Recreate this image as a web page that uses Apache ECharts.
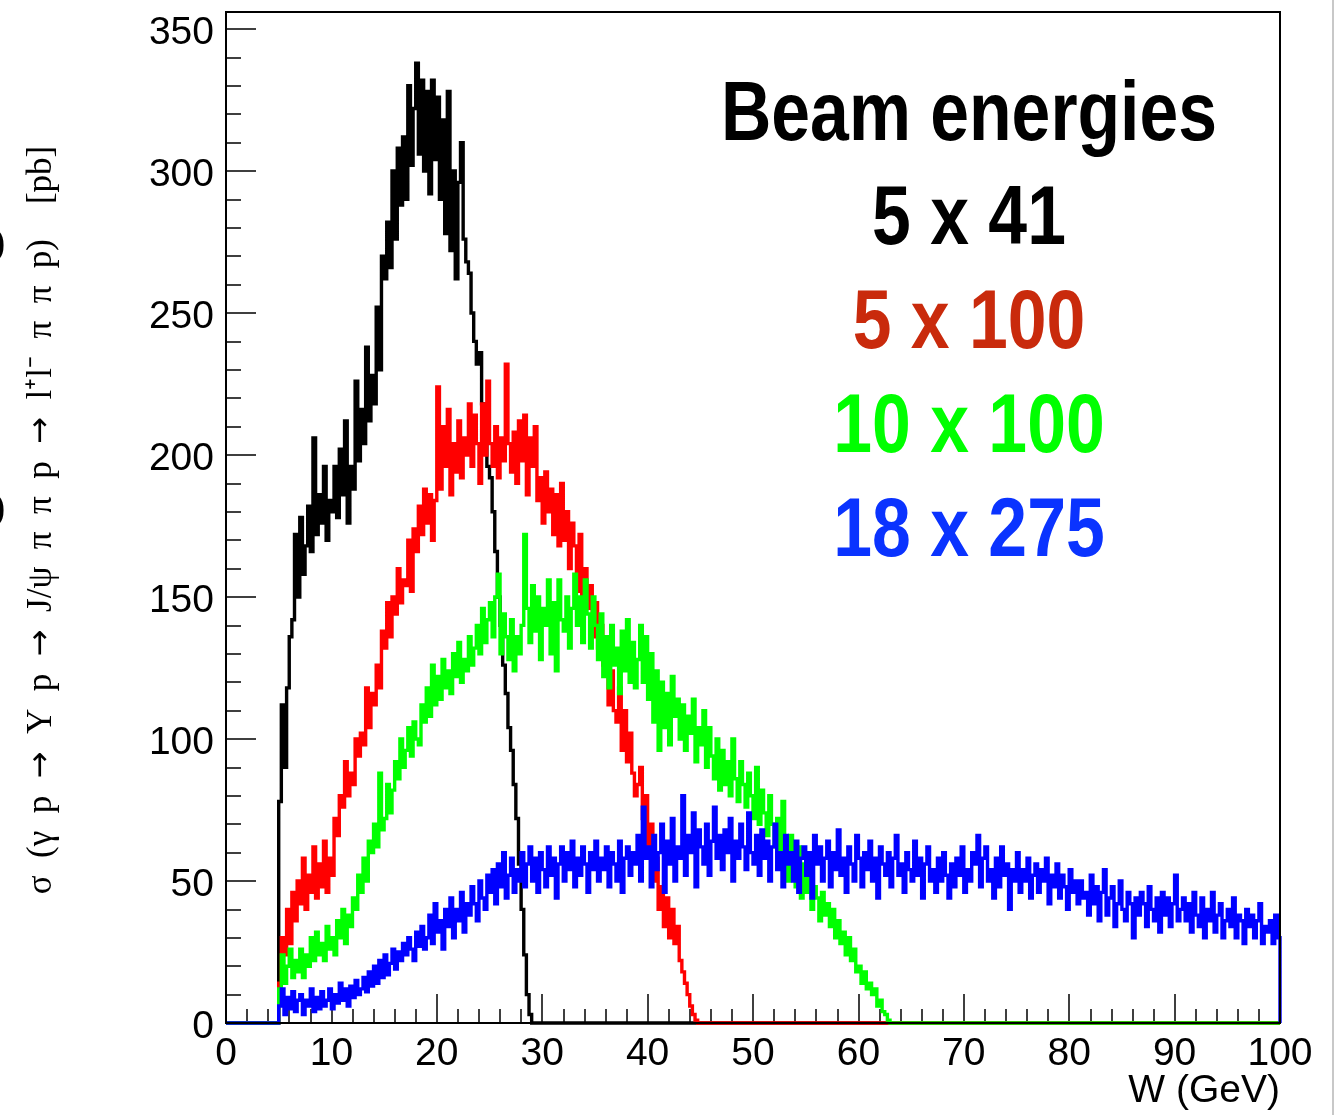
<!DOCTYPE html>
<html>
<head>
<meta charset="utf-8">
<script src="https://cdn.jsdelivr.net/npm/echarts@6/dist/echarts.min.js"></script>
<style>
html,body{margin:0;padding:0;background:#fff;}
#chart{width:1342px;height:1115px;}
</style>
</head>
<body>
<div id="chart"></div>
<script>
// Histogram bin layout (GeV): first filled bin edge and bin width
const BIN_START = 5;
const BIN_WIDTH = 0.25;

// Series names / legend labels
const legendTitle = 'Beam energies';
const seriesNames = ['5 x 41', '5 x 100', '10 x 100', '18 x 275'];

// Cross-section per bin [pb]; bins start at W = 5 GeV, width 0.25 GeV (8 bins = 2 GeV per row)
const beam5x41 = [
  78,112,90,118,136,142,172,150,
  178,158,168,182,166,206,172,186,
  176,196,170,184,180,196,178,202,
  186,212,176,196,188,226,198,216,
  204,238,212,228,218,252,230,270,
  262,282,266,300,276,308,288,312,
  290,330,302,322,338,306,332,300,
  328,292,332,304,326,290,318,278,
  328,272,300,262,296,310,276,268,
  264,250,240,232,236,218,212,196,
  192,180,166,150,140,126,116,104,
  96,84,72,56,40,24,10,3,
  0
];
const beam5x100 = [
  14,30,24,40,28,46,36,50,
  42,58,40,52,46,62,44,56,
  48,64,46,58,52,72,66,80,
  76,92,80,88,84,100,94,102,
  98,118,104,116,112,126,118,138,
  132,148,136,150,144,160,148,156,
  154,170,152,174,166,182,172,188,
  176,186,170,184,224,188,210,196,
  216,186,204,194,212,192,206,200,
  218,196,214,204,190,218,200,226,
  204,196,210,192,206,198,232,204,
  194,208,190,212,198,214,186,206,
  196,210,184,192,176,194,180,188,
  172,186,168,190,170,180,160,176,
  168,152,172,150,160,146,154,136,
  148,132,140,126,130,112,124,110,
  106,118,96,110,92,102,88,80,
  84,90,72,80,62,70,50,58,
  40,48,34,44,30,40,28,34,
  22,18,14,10,6,3,1,0
];
const beam10x100 = [
  12,24,14,20,26,16,22,18,
  26,16,24,20,30,22,32,24,
  28,22,34,26,30,24,36,30,
  40,28,38,34,44,40,52,46,
  58,50,64,60,70,62,88,68,
  72,84,74,82,92,86,100,90,
  96,104,94,106,100,98,112,106,
  118,108,126,112,122,114,128,118,
  124,116,130,122,134,120,128,124,
  136,126,132,140,130,146,134,142,
  148,136,150,158,130,144,136,128,
  142,124,136,130,140,172,146,134,
  154,138,150,128,146,140,156,130,
  148,124,156,142,138,150,132,146,
  158,140,150,134,156,144,132,150,
  140,128,144,122,136,118,140,126,
  132,116,138,124,142,120,134,118,
  128,140,120,136,114,130,106,124,
  96,120,104,116,98,122,108,114,
  100,112,96,108,102,114,92,104,
  98,110,90,104,94,86,100,82,
  96,84,92,80,100,86,78,92,
  84,76,88,80,72,90,70,82,
  74,66,80,70,62,72,56,78,
  60,50,66,54,48,62,44,56,
  46,52,40,48,44,36,46,38,
  42,34,40,30,36,28,32,24,
  30,22,26,18,20,14,18,12,
  14,10,12,6,8,4,3,1,
  0
];
const beam18x275 = [
  6,12,3,9,5,11,4,8,
  10,3,8,6,12,4,9,5,
  11,6,8,12,5,10,7,14,
  8,12,6,13,9,15,10,12,
  16,11,18,13,20,14,22,16,
  24,17,21,26,19,25,22,28,
  24,30,26,22,32,27,34,26,
  30,38,28,42,32,36,26,40,
  34,44,30,40,36,46,32,42,
  38,48,42,36,50,44,40,52,
  46,54,42,56,48,60,44,52,
  58,46,54,50,60,48,56,62,
  50,58,46,60,54,48,62,52,
  58,44,56,62,50,60,54,64,
  48,58,52,62,56,46,60,54,
  64,50,58,54,62,48,60,56,
  50,64,46,58,62,52,60,56,
  66,50,76,58,62,48,66,54,
  60,70,46,64,56,72,50,62,
  58,80,52,66,60,74,48,68,
  62,56,70,52,64,76,58,66,
  54,68,60,72,50,64,58,70,
  62,54,74,60,56,66,52,68,
  58,64,50,62,70,54,60,48,
  66,56,60,50,64,46,58,62,
  52,60,44,66,56,62,50,58,
  64,48,60,54,68,52,58,46,
  62,56,50,66,58,48,60,54,
  64,50,58,44,62,56,52,60,
  48,58,66,52,56,46,60,54,
  50,64,52,58,44,56,62,50,
  54,46,58,50,60,52,44,56,
  48,58,52,62,46,54,50,60,
  56,66,48,58,62,50,54,44,
  58,48,62,52,56,40,54,50,
  60,46,54,50,58,44,52,56,
  46,54,50,58,42,52,48,56,
  44,52,48,40,54,46,50,42,
  50,44,46,38,52,42,48,36,
  46,54,38,44,48,34,42,50,
  40,36,46,42,30,44,38,46,
  42,34,48,40,36,44,32,46,
  38,44,34,42,52,36,40,44,
  36,42,32,46,38,34,44,30,
  40,36,46,32,38,42,30,36,
  40,34,44,30,38,36,28,40,
  34,38,30,36,42,28,34,32,
  36,28,38,30
];

// Axis ranges / tick steps
const xRange = [0, 100];
const xTickStep = 10;
const yRange = [0, 350];
const yTickStep = 50;

const lineColors = ['#000000', '#ff0000', '#00ff00', '#0000ff'];
const textColors = ['#000000', '#c92a0c', '#00ff00', '#0a33ff'];

function histData(vals) {
  const d = [[xRange[0], 0]];
  vals.forEach((v, i) => d.push([BIN_START + i * BIN_WIDTH, v]));
  const end = BIN_START + vals.length * BIN_WIDTH;
  d.push([end, 0]);
  if (end < xRange[1]) d.push([xRange[1], 0]);
  return d;
}

const allVals = [beam5x41, beam5x100, beam10x100, beam18x275];

const W = 1342, H = 1115;
const GRID = {left: 226, right: 62, top: 29, bottom: 92};
const FRAME_TOP = 12;
const plotW = W - GRID.left - GRID.right;
const plotBottom = H - GRID.bottom;

const chart = echarts.init(document.getElementById('chart'), null, {renderer: 'canvas'});

const series = allVals.map((vals, i) => ({
  name: seriesNames[i],
  type: 'line',
  step: 'end',
  data: histData(vals),
  showSymbol: false,
  symbol: 'none',
  clip: false,
  z: 2 + i,
  lineStyle: {color: lineColors[i], width: 3.4, join: 'miter'},
  itemStyle: {color: lineColors[i]},
  animation: false
}));

const legendGraphics = [{text: legendTitle, color: '#000000'}]
  .concat(seriesNames.map((n, i) => ({text: n, color: textColors[i]})))
  .map((t, i) => ({
    type: 'text',
    x: 969,
    y: 117 + i * 104,
    scaleX: 0.83,
    z: 10,
    style: {
      text: t.text,
      fill: t.color,
      font: 'bold 84px "Liberation Sans", Arial, sans-serif',
      textAlign: 'center',
      textVerticalAlign: 'middle',
      align: 'center',
      verticalAlign: 'middle'
    }
  }));

const labelFont = '"Liberation Sans", Arial, sans-serif';
const yTitle = 'σ  (γ  p  {a|→}  Υ  p  {a|→}  J/ψ  π  π  p  {a|→}  l\u207Al\u207B  π  π  p)    [pb]';

chart.setOption({
  backgroundColor: '#ffffff',
  animation: false,
  grid: {left: GRID.left, right: GRID.right, top: GRID.top, bottom: GRID.bottom, containLabel: false, outerBoundsMode: 'none'},
  xAxis: {
    type: 'value',
    min: xRange[0], max: xRange[1], interval: xTickStep,
    axisLine: {show: true, onZero: false, lineStyle: {color: '#000', width: 2}},
    axisTick: {show: true, inside: true, length: 29, lineStyle: {color: '#000', width: 1.5}},
    minorTick: {show: true, splitNumber: 5, length: 14, lineStyle: {color: '#000', width: 1.5}},
    splitLine: {show: false},
    axisLabel: {color: '#000', fontSize: 39, fontFamily: labelFont, margin: 12,
      showMinLabel: true, showMaxLabel: true}
  },
  yAxis: {
    type: 'value',
    min: yRange[0], max: yRange[1], interval: yTickStep,
    axisLine: {show: true, onZero: false, lineStyle: {color: '#000', width: 2}},
    axisTick: {show: true, inside: true, length: 30, lineStyle: {color: '#000', width: 1.5}},
    minorTick: {show: true, splitNumber: 5, length: 15, lineStyle: {color: '#000', width: 1.5}},
    splitLine: {show: false},
    axisLabel: {color: '#000', fontSize: 39, fontFamily: labelFont, margin: 12,
      formatter: function (v) { return '{v|' + v + '}'; },
      rich: {v: {fontSize: 39, fontFamily: labelFont, color: '#000', padding: [8, 0, 0, 0]}},
      showMinLabel: true, showMaxLabel: true}
  },
  series: series,
  graphic: [
    {
      type: 'rect', z: 20, silent: true,
      shape: {x: GRID.left, y: FRAME_TOP, width: plotW, height: plotBottom - FRAME_TOP},
      style: {fill: 'none', stroke: '#000', lineWidth: 2}
    },
    {
      type: 'line', z: 1, silent: true,
      shape: {x1: 1333, y1: 0, x2: 1333, y2: H},
      style: {stroke: '#c8c8c8', lineWidth: 2}
    },
    {
      type: 'text', z: 10,
      x: W - GRID.right, y: 1091,
      style: {
        text: 'W (GeV)', fill: '#000',
        font: '39px ' + labelFont,
        textAlign: 'right', textVerticalAlign: 'middle', align: 'right', verticalAlign: 'middle'
      }
    },
    {
      type: 'text', z: 10,
      x: 42, y: 520, rotation: Math.PI / 2,
      style: {
        text: yTitle, fill: '#000',
        fontSize: 35, fontFamily: '"Liberation Serif", "Times New Roman", serif',
        align: 'center', verticalAlign: 'middle',
        rich: {
          a: {fontSize: 32, fontFamily: '"DejaVu Sans", sans-serif', fill: '#000'}
        }
      }
    },
    {
      type: 'text', z: 10, x: -8, y: 245,
      style: {text: ')', fill: '#000', font: 'bold 40px "Liberation Serif", serif',
        textAlign: 'left', textVerticalAlign: 'middle', align: 'left', verticalAlign: 'middle'}
    },
    {
      type: 'text', z: 10, x: -8, y: 510,
      style: {text: ')', fill: '#000', font: 'bold 40px "Liberation Serif", serif',
        textAlign: 'left', textVerticalAlign: 'middle', align: 'left', verticalAlign: 'middle'}
    }
  ].concat(legendGraphics)
});
</script>
</body>
</html>
